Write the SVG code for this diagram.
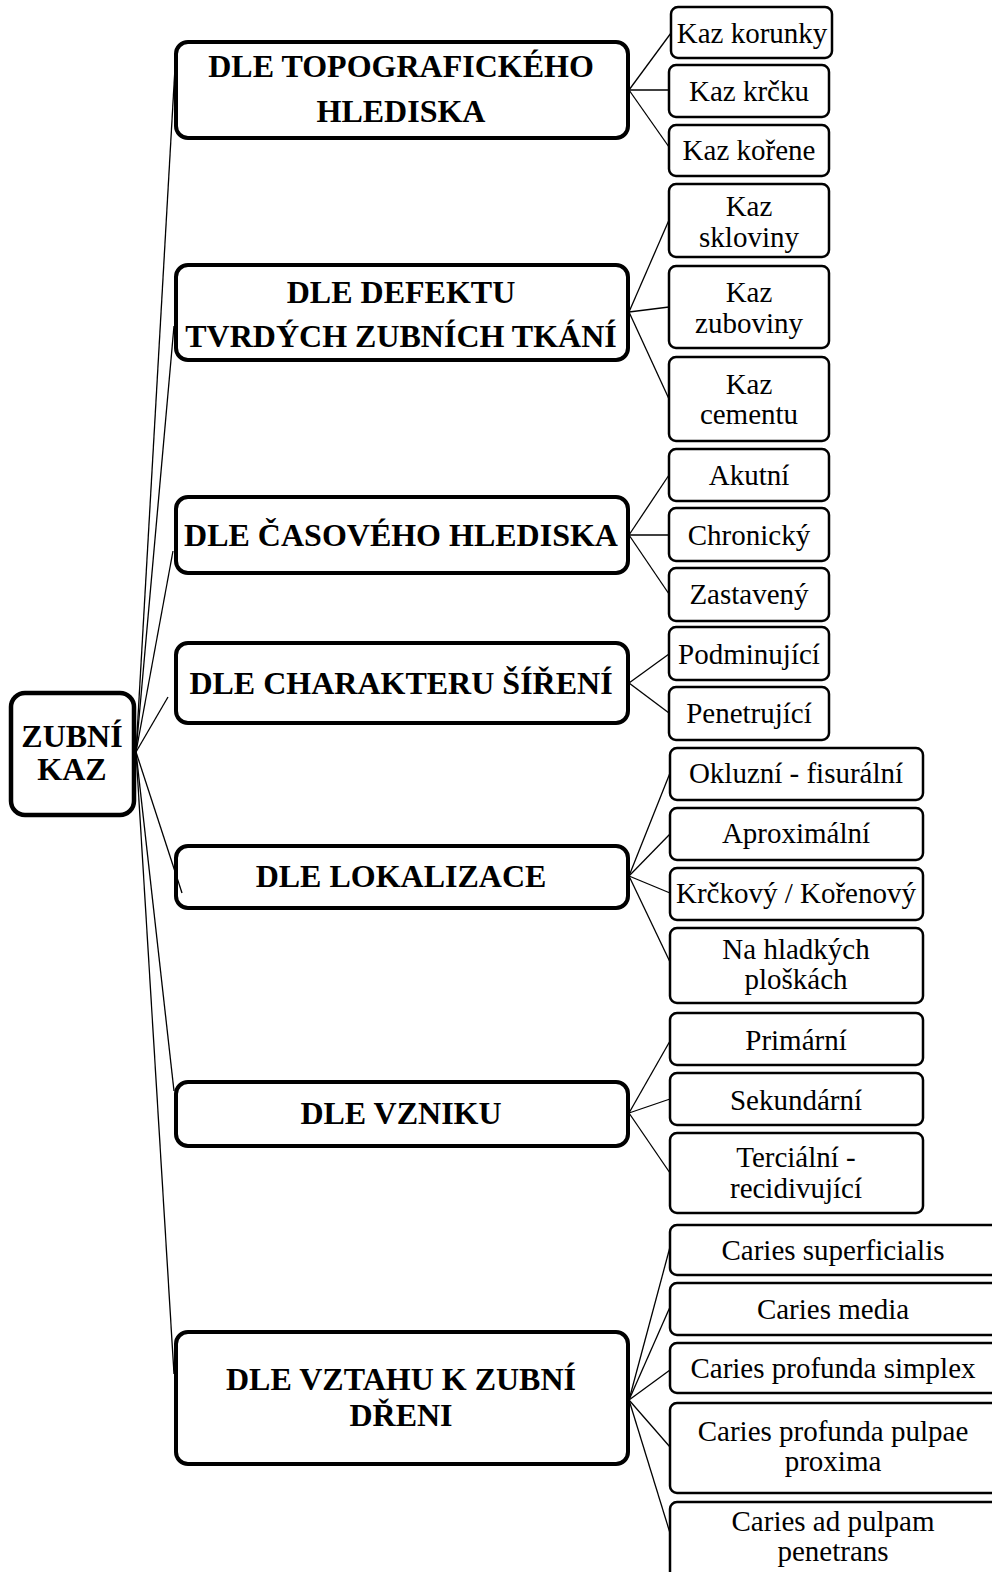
<svg xmlns="http://www.w3.org/2000/svg" width="992" height="1572" viewBox="0 0 992 1572">
<style>
.root{fill:#fff;stroke:#000;stroke-width:4.5}
.cat{fill:#fff;stroke:#000;stroke-width:4}
.leaf{fill:#fff;stroke:#000;stroke-width:2.5}
.tb{font-family:"Liberation Serif","Times New Roman",serif;font-weight:bold;font-size:32px;text-anchor:middle;fill:#000}
.tl{font-family:"Liberation Serif","Times New Roman",serif;font-size:29px;text-anchor:middle;fill:#000}
.con line{stroke:#000;stroke-width:1.3}
</style>
<rect width="992" height="1572" fill="#fff"/>
<g id="root">
<rect class="root" x="11" y="693" width="123" height="122" rx="14"/>
<text class="tb" x="72" y="747">ZUBNÍ</text>
<text class="tb" x="72" y="780">KAZ</text>
</g>
<g id="cat1"><rect class="cat" x="176" y="42" width="452" height="96" rx="12"/>
<text class="tb" x="401" y="77">DLE TOPOGRAFICKÉHO</text><text class="tb" x="401" y="122">HLEDISKA</text></g>
<g id="cat2"><rect class="cat" x="176" y="265" width="452" height="95" rx="12"/>
<text class="tb" x="401" y="303">DLE DEFEKTU</text><text class="tb" x="401" y="347">TVRDÝCH ZUBNÍCH TKÁNÍ</text></g>
<g id="cat3"><rect class="cat" x="176" y="497" width="452" height="76" rx="12"/>
<text class="tb" x="401" y="546">DLE ČASOVÉHO HLEDISKA</text></g>
<g id="cat4"><rect class="cat" x="176" y="643" width="452" height="80" rx="12"/>
<text class="tb" x="401" y="694">DLE CHARAKTERU ŠÍŘENÍ</text></g>
<g id="cat5"><rect class="cat" x="176" y="846" width="452" height="62" rx="12"/>
<text class="tb" x="401" y="887">DLE LOKALIZACE</text></g>
<g id="cat6"><rect class="cat" x="176" y="1082" width="452" height="64" rx="12"/>
<text class="tb" x="401" y="1124">DLE VZNIKU</text></g>
<g id="cat7"><rect class="cat" x="176" y="1332" width="452" height="132" rx="12"/>
<text class="tb" x="401" y="1390">DLE VZTAHU K ZUBNÍ</text><text class="tb" x="401" y="1426">DŘENI</text></g>

<g id="l1a"><rect class="leaf" x="671" y="7" width="161" height="51" rx="7"/><text class="tl" x="752" y="43">Kaz korunky</text></g>
<g id="l1b"><rect class="leaf" x="669" y="65" width="160" height="52" rx="7"/><text class="tl" x="749" y="101">Kaz krčku</text></g>
<g id="l1c"><rect class="leaf" x="669" y="125" width="160" height="51" rx="7"/><text class="tl" x="749" y="160">Kaz kořene</text></g>

<g id="l2a"><rect class="leaf" x="669" y="184" width="160" height="73" rx="7"/><text class="tl" x="749" y="216">Kaz</text><text class="tl" x="749" y="247">skloviny</text></g>
<g id="l2b"><rect class="leaf" x="669" y="266" width="160" height="82" rx="7"/><text class="tl" x="749" y="302">Kaz</text><text class="tl" x="749" y="333">zuboviny</text></g>
<g id="l2c"><rect class="leaf" x="669" y="357" width="160" height="84" rx="7"/><text class="tl" x="749" y="394">Kaz</text><text class="tl" x="749" y="424">cementu</text></g>

<g id="l3a"><rect class="leaf" x="669" y="449" width="160" height="52" rx="7"/><text class="tl" x="749" y="485">Akutní</text></g>
<g id="l3b"><rect class="leaf" x="669" y="508" width="160" height="53" rx="7"/><text class="tl" x="749" y="545">Chronický</text></g>
<g id="l3c"><rect class="leaf" x="669" y="568" width="160" height="53" rx="7"/><text class="tl" x="749" y="604">Zastavený</text></g>

<g id="l4a"><rect class="leaf" x="669" y="627" width="160" height="53" rx="7"/><text class="tl" x="749" y="664">Podminující</text></g>
<g id="l4b"><rect class="leaf" x="669" y="687" width="160" height="53" rx="7"/><text class="tl" x="749" y="723">Penetrující</text></g>

<g id="l5a"><rect class="leaf" x="670" y="748" width="253" height="52" rx="7"/><text class="tl" x="796" y="783">Okluzní - fisurální</text></g>
<g id="l5b"><rect class="leaf" x="670" y="808" width="253" height="52" rx="7"/><text class="tl" x="796" y="843">Aproximální</text></g>
<g id="l5c"><rect class="leaf" x="670" y="868" width="253" height="52" rx="7"/><text class="tl" x="796" y="903">Krčkový / Kořenový</text></g>
<g id="l5d"><rect class="leaf" x="670" y="928" width="253" height="75" rx="7"/><text class="tl" x="796" y="959">Na hladkých</text><text class="tl" x="796" y="989">ploškách</text></g>

<g id="l6a"><rect class="leaf" x="670" y="1013" width="253" height="52" rx="7"/><text class="tl" x="796" y="1050">Primární</text></g>
<g id="l6b"><rect class="leaf" x="670" y="1073" width="253" height="52" rx="7"/><text class="tl" x="796" y="1110">Sekundární</text></g>
<g id="l6c"><rect class="leaf" x="670" y="1133" width="253" height="80" rx="7"/><text class="tl" x="796" y="1167">Terciální -</text><text class="tl" x="796" y="1198">recidivující</text></g>

<g id="l7a"><rect class="leaf" x="670" y="1225" width="328" height="50" rx="7"/><text class="tl" x="833" y="1260">Caries superficialis</text></g>
<g id="l7b"><rect class="leaf" x="670" y="1283" width="328" height="52" rx="7"/><text class="tl" x="833" y="1319">Caries media</text></g>
<g id="l7c"><rect class="leaf" x="670" y="1343" width="328" height="50" rx="7"/><text class="tl" x="833" y="1378">Caries profunda simplex</text></g>
<g id="l7d"><rect class="leaf" x="670" y="1403" width="328" height="90" rx="7"/><text class="tl" x="833" y="1441">Caries profunda pulpae</text><text class="tl" x="833" y="1471">proxima</text></g>
<g id="l7e"><rect class="leaf" x="670" y="1502" width="328" height="80" rx="7"/><text class="tl" x="833" y="1531">Caries ad pulpam</text><text class="tl" x="833" y="1561">penetrans</text></g>

<g id="connectors" class="con">
<line x1="136" y1="752" x2="176" y2="50"/>
<line x1="136" y1="752" x2="174" y2="326"/>
<line x1="136" y1="752" x2="173" y2="551"/>
<line x1="136" y1="752" x2="168" y2="697"/>
<line x1="136" y1="752" x2="182" y2="893"/>
<line x1="136" y1="752" x2="174" y2="1091"/>
<line x1="136" y1="752" x2="174" y2="1374"/>
<line x1="629" y1="90" x2="671" y2="33"/>
<line x1="629" y1="90" x2="669" y2="90"/>
<line x1="629" y1="90" x2="669" y2="147"/>
<line x1="629" y1="312" x2="669" y2="220"/>
<line x1="629" y1="312" x2="669" y2="307"/>
<line x1="629" y1="312" x2="669" y2="399"/>
<line x1="629" y1="535" x2="669" y2="475"/>
<line x1="629" y1="535" x2="669" y2="535"/>
<line x1="629" y1="535" x2="669" y2="594"/>
<line x1="629" y1="683" x2="669" y2="654"/>
<line x1="629" y1="683" x2="669" y2="713"/>
<line x1="629" y1="876" x2="670" y2="773"/>
<line x1="629" y1="876" x2="670" y2="834"/>
<line x1="629" y1="876" x2="670" y2="893"/>
<line x1="629" y1="876" x2="670" y2="962"/>
<line x1="629" y1="1113" x2="670" y2="1041"/>
<line x1="629" y1="1113" x2="670" y2="1099"/>
<line x1="629" y1="1113" x2="670" y2="1173"/>
<line x1="629" y1="1400" x2="670" y2="1247"/>
<line x1="629" y1="1400" x2="670" y2="1307"/>
<line x1="629" y1="1400" x2="670" y2="1370"/>
<line x1="629" y1="1400" x2="670" y2="1447"/>
<line x1="629" y1="1400" x2="670" y2="1533"/>
</g>
</svg>
